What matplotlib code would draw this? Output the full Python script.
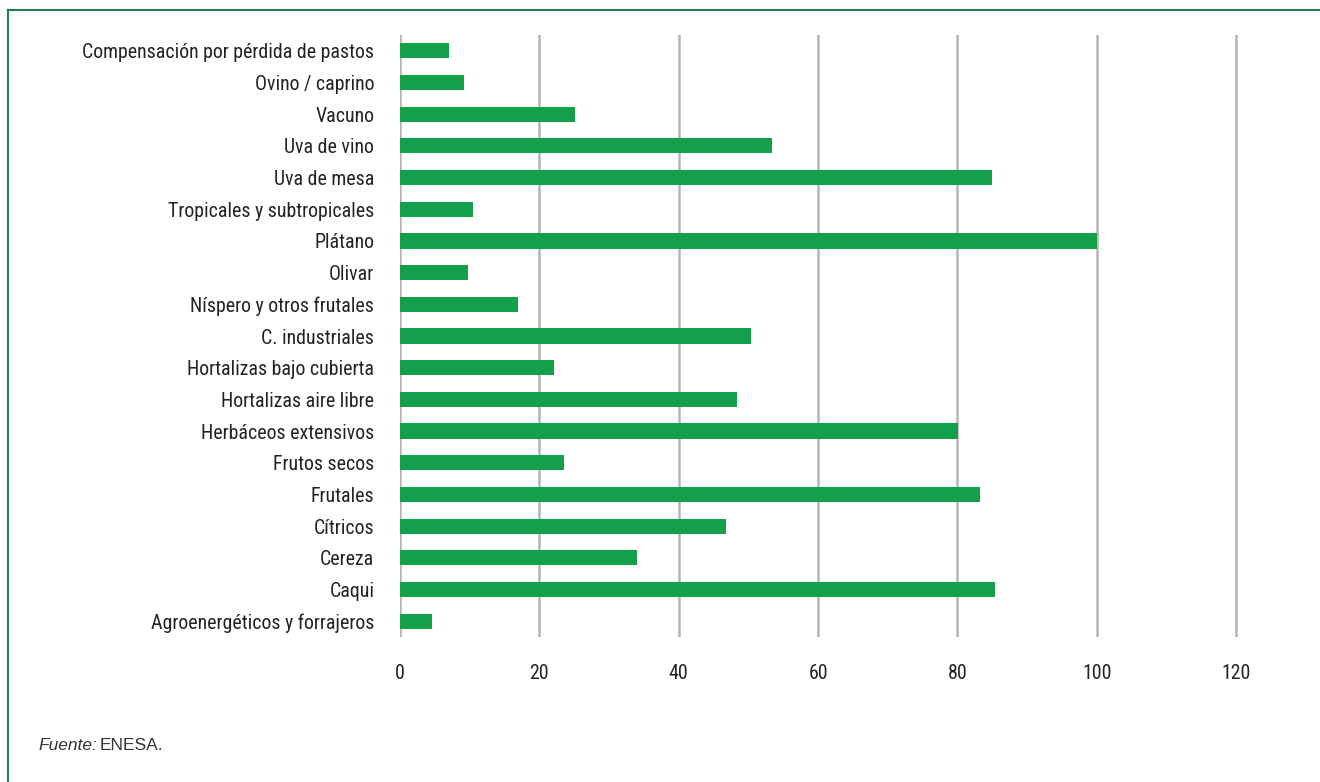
import matplotlib.pyplot as plt
from matplotlib.lines import Line2D
from matplotlib import font_manager

# data (top to bottom as in the chart)
categorias = [
    'Compensación por pérdida de pastos',
    'Ovino / caprino',
    'Vacuno',
    'Uva de vino',
    'Uva de mesa',
    'Tropicales y subtropicales',
    'Plátano',
    'Olivar',
    'Níspero y otros frutales',
    'C. industriales',
    'Hortalizas bajo cubierta',
    'Hortalizas aire libre',
    'Herbáceos extensivos',
    'Frutos secos',
    'Frutales',
    'Cítricos',
    'Cereza',
    'Caqui',
    'Agroenergéticos y forrajeros',
]
valores = [7.0, 9.2, 25.1, 53.4, 84.9, 10.5, 100.0, 9.8, 16.9, 50.4,
           22.1, 48.4, 80.1, 23.5, 83.2, 46.8, 34.0, 85.4, 4.6]
xticks = [0, 20, 40, 60, 80, 100, 120]

# condensed font for the labels
nombres = {f.name for f in font_manager.fontManager.ttflist}
familia = 'DejaVu Sans'
for cand in ['Roboto Condensed', 'IBM Plex Sans Condensed', 'Open Sans Condensed']:
    if cand in nombres:
        familia = cand
        break
plt.rcParams['font.family'] = [familia, 'DejaVu Sans']

verde = '#12a14a'
texto = '#222222'

fig = plt.figure(figsize=(13.2, 7.82), dpi=100)
# 0..125 so the last grid line at 120 is not clipped
ax = fig.add_axes([400 / 1320, 1 - 637 / 782, 871 / 1320, 602 / 782])

y = list(range(len(categorias)))
ax.barh(y, valores, height=0.48, color=verde, zorder=3)

ax.set_xlim(0, 125)
ax.set_ylim(len(categorias) - 0.5, -0.5)
ax.set_yticks(y)
ax.set_yticklabels(categorias, fontsize=14.3, color=texto)
ax.set_xticks(xticks)
ax.set_xticklabels([str(t) for t in xticks], fontsize=14.3, color=texto)
ax.tick_params(axis='both', length=0)
ax.tick_params(axis='y', pad=18.5)
ax.tick_params(axis='x', pad=19.5)

ax.grid(axis='x', color='#b5b5b5', linewidth=1.8, zorder=0)
for s in ax.spines.values():
    s.set_visible(False)

# frame (top and left only)
borde = '#1f7d4c'
fig.add_artist(Line2D([8 / 1320, 1.0], [1 - 10 / 782] * 2, color=borde, lw=1.5))
fig.add_artist(Line2D([8 / 1320] * 2, [0.0, 1 - 10 / 782], color=borde, lw=1.5))

# source
fig.text(38 / 1320, 1 - 745 / 782, 'Fuente:', fontsize=12.5, style='italic',
         family='Liberation Sans', color='#333333', va='center')
fig.text(100 / 1320, 1 - 745 / 782, 'ENESA.', fontsize=12.5,
         family='Liberation Sans', color='#333333', va='center')

fig.savefig('out.png', dpi=100)
